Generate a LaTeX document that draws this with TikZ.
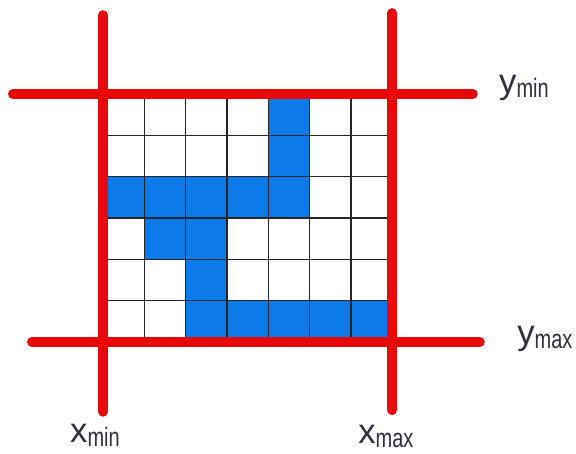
\documentclass[tikz,border=0pt]{standalone}
\usepackage{graphicx}
\usepackage{fontspec}
\setmainfont{Liberation Sans}
\definecolor{clipred}{RGB}{232,8,8}
\definecolor{pixblue}{RGB}{12,122,232}
\definecolor{labelgray}{RGB}{48,48,62}
\newcommand{\lblsub}[1]{\raisebox{-3pt}{\scalebox{0.75}[1]{\fontsize{20}{20}\selectfont #1}}}
\begin{document}
\begin{tikzpicture}[x=31pt,y=31pt,
		redline/.style={line width=7.3pt, clipred, line cap=round},
		gridline/.style={line width=1pt, black!85},
		cellfill/.style={fill=pixblue},
		lbl/.style={anchor=base west, inner sep=0pt, text=labelgray, font=\fontsize{26}{26}\selectfont}]
		\useasboundingbox (-2.492,-2.686) rectangle (11.445,8.275);
		
		% Filled pixels
		\foreach \c/\r in {4/5,4/4,0/3,1/3,2/3,3/3,4/3,1/2,2/2,2/1,2/0,3/0,4/0,5/0,6/0} {
			\fill[cellfill] (\c,\r) rectangle ++(1,1);
		}
		
		% Pixel grid
		\foreach \c in {1,...,6} {
			\draw[gridline] (\c,0) -- (\c,6);
		}
		\foreach \r in {1,...,5} {
			\draw[gridline] (0,\r) -- (7,\r);
		}
		
		% Clipping window borders
		\draw[redline] (0,7.91) -- (0,-1.69);
		\draw[redline] (7,7.96) -- (7,-1.65);
		\draw[redline] (-2.18,6) -- (8.95,6);
		\draw[redline] (-1.72,0) -- (9.12,0);
		
		% Labels
		\node[lbl] (ymin) at (9.58,6.02) {y\lblsub{min}};
		\node[lbl] (ymax) at (10.02,-0.05) {y\lblsub{max}};
		\node[lbl] (xmin) at (-0.8,-2.44) {x\lblsub{min}};
		\node[lbl] (xmax) at (6.17,-2.46) {x\lblsub{max}};
	\end{tikzpicture}
\end{document}
